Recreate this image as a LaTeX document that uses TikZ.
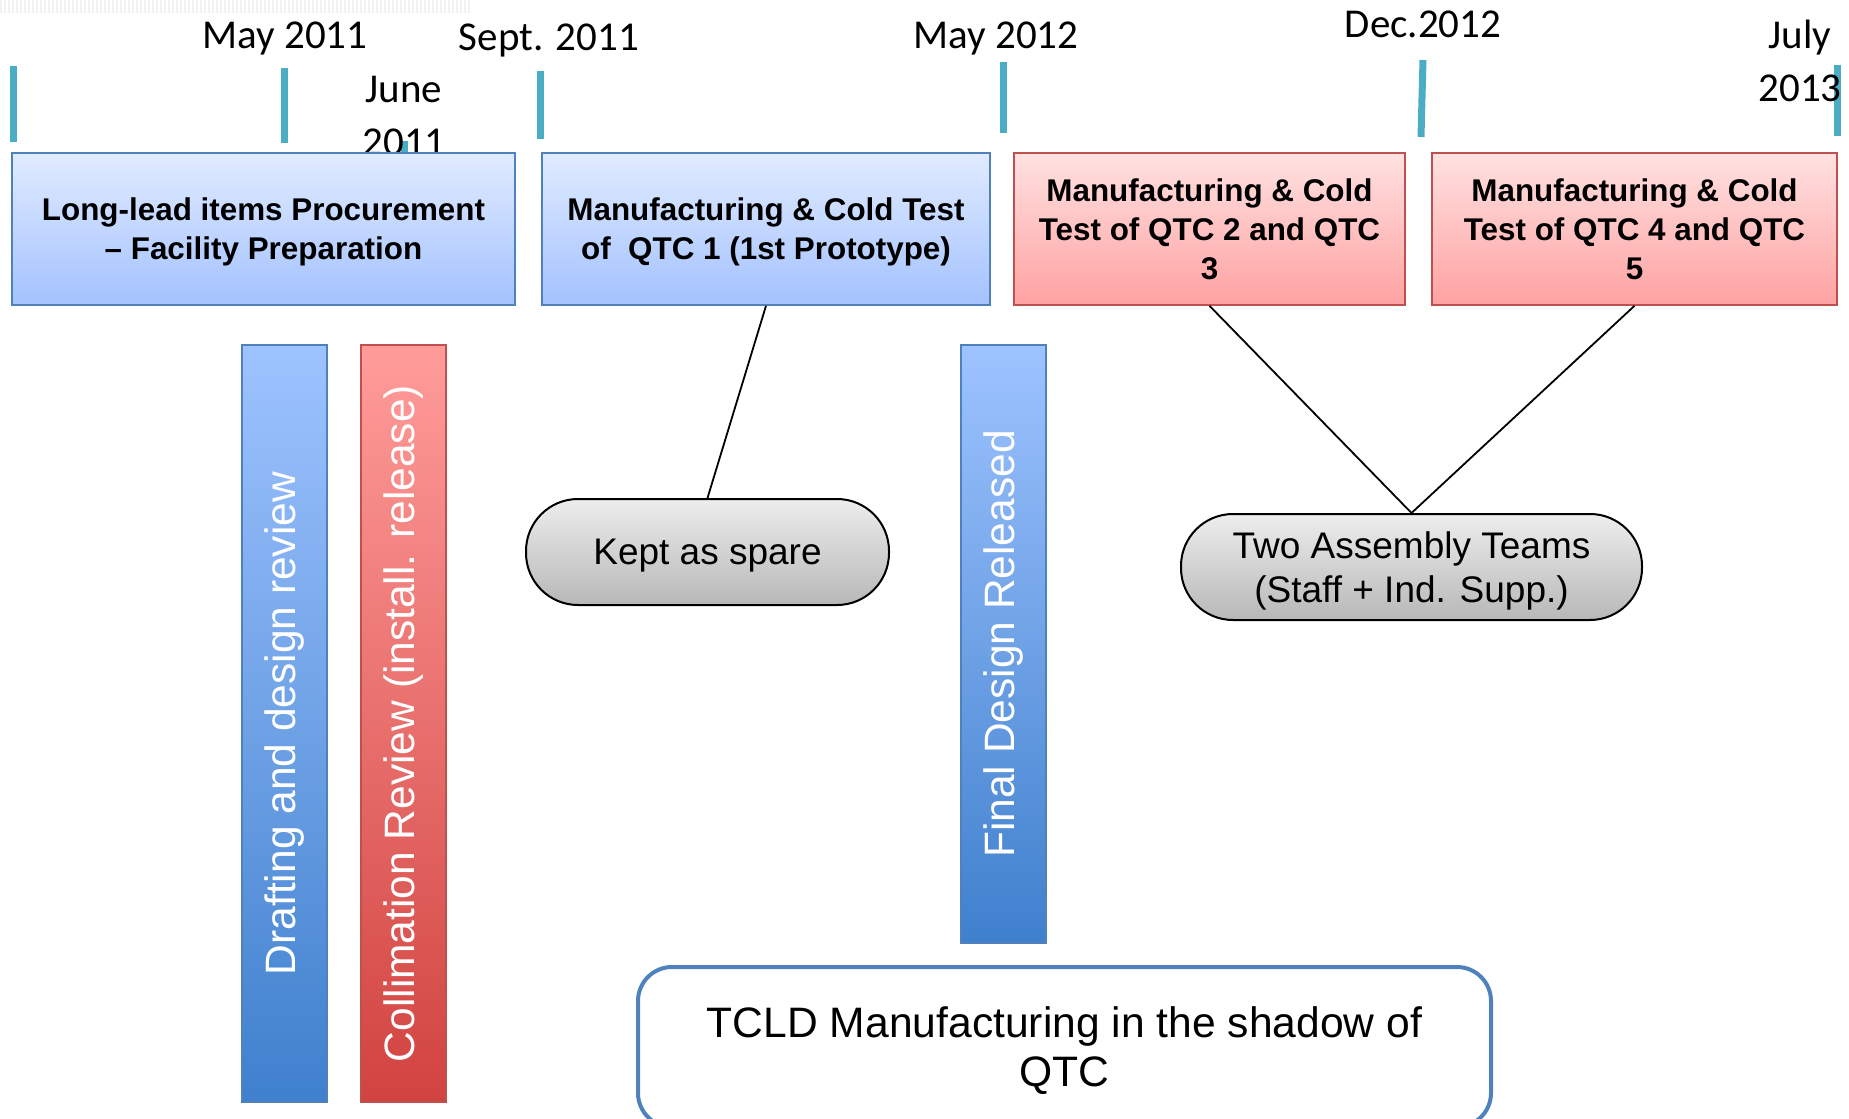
\documentclass[tikz,border=0pt]{standalone}
\usepackage{fontspec}
\setmainfont{Liberation Sans}
\newfontfamily\datefont{Carlito}
\definecolor{tickblue}{HTML}{4BACC6}
\definecolor{lineblue}{HTML}{4F81BD}
\definecolor{linered}{HTML}{C0504D}
\definecolor{phasetop}{HTML}{E1EBFF}
\definecolor{phasebot}{HTML}{A3C2FF}
\definecolor{redtop}{HTML}{FFE1E1}
\definecolor{redbot}{HTML}{FFA2A2}
\definecolor{bartop}{HTML}{9EC3FF}
\definecolor{barbot}{HTML}{3F80CD}
\definecolor{redbartop}{HTML}{FF9C9A}
\definecolor{redbarbot}{HTML}{D14340}

\begin{document}
\begin{tikzpicture}[x=0.5pt,y=-0.5pt,
        phase/.style={draw=lineblue, line width=0.8pt, top color=phasetop, bottom color=phasebot,
            minimum height=76pt, inner sep=0pt, align=center, text depth=0pt,
            font=\fontsize{15.7}{19.5}\selectfont\bfseries},
        phasered/.style={phase, draw=linered, top color=redtop, bottom color=redbot},
        review/.style={rotate=90, draw=lineblue, line width=0.6pt, top color=bartop, bottom color=barbot,
            minimum height=42.5pt, inner sep=0pt, text=white,
            font=\fontsize{21.25}{25}\selectfont},
        reviewred/.style={review, draw=linered, top color=redbartop, bottom color=redbarbot},
        pill/.style={draw, line width=1pt, rounded corners=26pt, top color=black!7, bottom color=black!28,
            minimum height=53pt, inner sep=0pt, align=center, text depth=0pt,
            font=\fontsize{18.5}{22}\selectfont},
        datetick/.style={tickblue, line width=3.5pt},
        date/.style={anchor=base, inner sep=0pt, align=center,
            font=\datefont\fontsize{20.5}{26.5}\selectfont},
        link/.style={draw, line width=0.9pt}]
    \clip (0,0) rectangle (1849,1119);
    \draw[black!5, line width=7pt, dash pattern=on 1pt off 1pt] (0,6) -- (470,6);

    \draw[datetick] (13,66) -- (13,142);
    \draw[datetick] (284,68) -- (284,143);
    \draw[datetick] (404,141) -- (404,176);
    \draw[datetick] (540,71) -- (540,139);
    \draw[datetick] (1003,62) -- (1003,133);
    \draw[datetick] (1423,60) -- (1421,137);
    \draw[datetick] (1837,65) -- (1837,136);

    \node[date] (may11) at (285,48) {May 2011};
    \node[date] (jun11) at (404,155) {June\\2011};
    \node[date] (sep11) at (549,50) {Sept. 2011};
    \node[date] (may12) at (996,48) {May 2012};
    \node[date] (dec12) at (1423,38) {Dec.2012};
    \node[date] (jul13) at (1800,101) {July\\2013};

    \node[phase, minimum width=251.5pt] (proc) at (263.5,229)
        {Long-lead items Procurement\\– Facility Preparation};
    \node[phase, minimum width=224pt] (qtc1) at (766,229)
        {Manufacturing \& Cold Test\\of~ QTC 1 (1st Prototype)};
    \node[phasered, minimum width=195.5pt] (qtc23) at (1209.5,229)
        {Manufacturing \& Cold\\Test of QTC 2 and QTC\\3};
    \node[phasered, minimum width=202.5pt] (qtc45) at (1634.5,229)
        {Manufacturing \& Cold\\Test of QTC 4 and QTC\\5};

    \node[review, minimum width=378.5pt] (draft) at (284.5,723.5) {Drafting and design review};
    \node[reviewred, minimum width=378.5pt] (collim) at (403.5,723.5) {Collimation Review (install. release)};
    \node[review, minimum width=299pt] (final) at (1003.5,644) {Final Design Released};

    \node[pill, minimum width=181.5pt] (spare) at (707.5,552) {Kept as spare};
    \node[pill, minimum width=230.5pt] (teams) at (1411.5,567) {Two Assembly Teams\\(Staff + Ind. Supp.)};

    \node[draw=lineblue, line width=2pt, rounded corners=17pt, fill=white,
        minimum width=426.5pt, minimum height=80pt, align=center, text depth=0pt,
        font=\fontsize{21.3}{24.5}\selectfont] (tcld) at (1064.5,1047)
        {TCLD Manufacturing in the shadow of\\QTC};

    \draw[link] (qtc1.south) -- (spare.north);
    \draw[link] (qtc23.south) -- (teams.north);
    \draw[link] (qtc45.south) -- (teams.north);
\end{tikzpicture}
\end{document}
